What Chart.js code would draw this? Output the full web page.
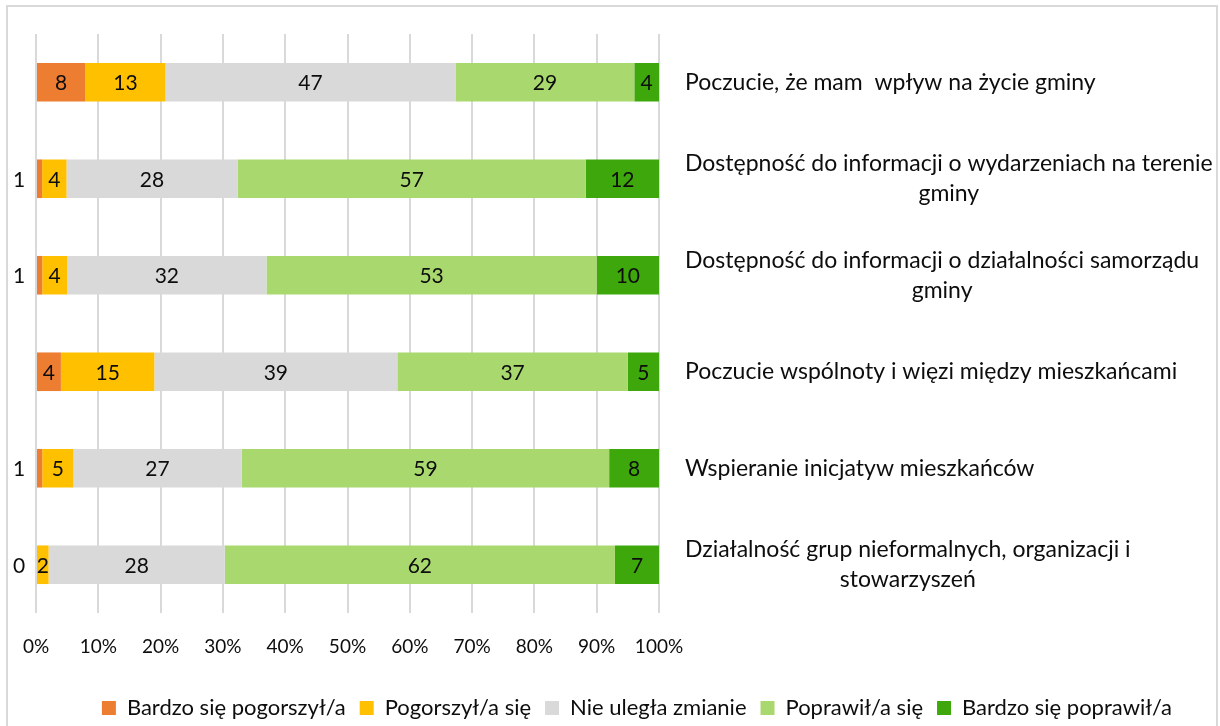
<!DOCTYPE html>
<html><head><meta charset="utf-8">
<script src="https://cdn.jsdelivr.net/npm/chart.js@4/dist/chart.umd.min.js"></script>
<style>
html,body{margin:0;padding:0;background:#fff;}
#wrap{position:relative;width:1220px;height:726px;overflow:hidden;}
#frame{position:absolute;left:6px;top:5px;width:1208px;height:800px;border:2px solid #d9d9d9;pointer-events:none;}
canvas{position:absolute;left:0;top:0;}
</style></head><body>
<div id="wrap"><canvas id="c" width="1220" height="726"></canvas><div id="frame"></div></div>
<script>
const categories = [
  ["Poczucie, że mam  wpływ na życie gminy"],
  ["Dostępność do informacji o wydarzeniach na terenie", "gminy"],
  ["Dostępność do informacji o działalności samorządu", "gminy"],
  ["Poczucie wspólnoty i więzi między mieszkańcami"],
  ["Wspieranie inicjatyw mieszkańców"],
  ["Działalność grup nieformalnych, organizacji i", "stowarzyszeń"]
];
const seriesNames = ["Bardzo się pogorszył/a", "Pogorszył/a się", "Nie uległa zmianie", "Poprawił/a się", "Bardzo się poprawił/a"];
const seriesColors = ["#ED7D31", "#FFC000", "#D9D9D9", "#A9D96E", "#3DA70B"];
const bardzoPogorszyl = [8, 1, 1, 4, 1, 0];
const pogorszyl = [13, 4, 4, 15, 5, 2];
const bezZmian = [47, 28, 32, 39, 27, 28];
const poprawil = [29, 57, 53, 37, 59, 62];
const bardzoPoprawil = [4, 12, 10, 5, 8, 7];
const tickLabels = ["0%", "10%", "20%", "30%", "40%", "50%", "60%", "70%", "80%", "90%", "100%"];

const raw = [bardzoPogorszyl, pogorszyl, bezZmian, poprawil, bardzoPoprawil];
const totals = categories.map((_, j) => raw.reduce((s, arr) => s + arr[j], 0));

const FONT = "Lato, 'Open Sans', sans-serif";
const TXT = "#0d0d0d";

const valueLabels = {
  id: 'valueLabels',
  afterDatasetsDraw(chart) {
    const ctx = chart.ctx;
    ctx.save();
    ctx.font = "21px " + FONT;
    ctx.fillStyle = TXT;
    ctx.textAlign = 'center';
    ctx.textBaseline = 'middle';
    chart.data.datasets.forEach((ds, i) => {
      const meta = chart.getDatasetMeta(i);
      meta.data.forEach((bar, j) => {
        const v = raw[i][j];
        let x = (bar.x + bar.base) / 2;
        if (i === 0 && v <= 1) x = chart.chartArea.left - 17;
        ctx.fillText(String(v), x, bar.y + 1);
      });
    });
    ctx.restore();
  }
};

const catLabels = {
  id: 'catLabels',
  afterDraw(chart) {
    const ctx = chart.ctx;
    const ys = chart.scales.y;
    ctx.save();
    ctx.font = "23px " + FONT;
    ctx.fillStyle = TXT;
    ctx.textAlign = 'center';
    ctx.textBaseline = 'middle';
    const lh = 30;
    const left = chart.chartArea.right + 26;
    categories.forEach((lines, j) => {
      const y = ys.getPixelForValue(j);
      const w = Math.max(...lines.map(l => ctx.measureText(l).width));
      const y0 = y - (lines.length - 1) * lh / 2;
      lines.forEach((l, k) => ctx.fillText(l, left + w / 2, y0 + k * lh));
    });
    ctx.restore();
  }
};

new Chart(document.getElementById('c'), {
  type: 'bar',
  data: {
    labels: categories.map(l => l.join(' ')),
    datasets: raw.map((arr, i) => ({
      label: seriesNames[i],
      data: arr.map((v, j) => v / totals[j] * 100),
      backgroundColor: seriesColors[i],
      borderWidth: 0,
      categoryPercentage: 1,
      barPercentage: 0.4
    }))
  },
  options: {
    indexAxis: 'y',
    responsive: false,
    animation: false,
    layout: { padding: { left: 36, top: 34, right: 34, bottom: -3 } },
    plugins: {
      tooltip: { enabled: false },
      legend: {
        position: 'bottom',
        align: 'end',
        labels: {
          boxWidth: 14, boxHeight: 14, padding: 14,
          color: TXT,
          font: { size: 22, family: FONT }
        }
      }
    },
    scales: {
      x: {
        stacked: true,
        min: 0, max: 100,
        afterFit(s) { s.height = 70; },
        grid: { color: '#d9d9d9', lineWidth: 2, drawTicks: false },
        border: { display: false },
        ticks: {
          stepSize: 10,
          padding: 22,
          color: TXT,
          font: { size: 19, family: FONT },
          callback: (v) => tickLabels[Math.round(v / 10)]
        }
      },
      y: {
        stacked: true,
        position: 'right',
        afterFit(s) { s.width = 1220 - 34 - 659; },
        grid: { display: false },
        border: { display: false },
        ticks: { display: false }
      }
    }
  },
  plugins: [valueLabels, catLabels]
});
</script>
</body></html>
